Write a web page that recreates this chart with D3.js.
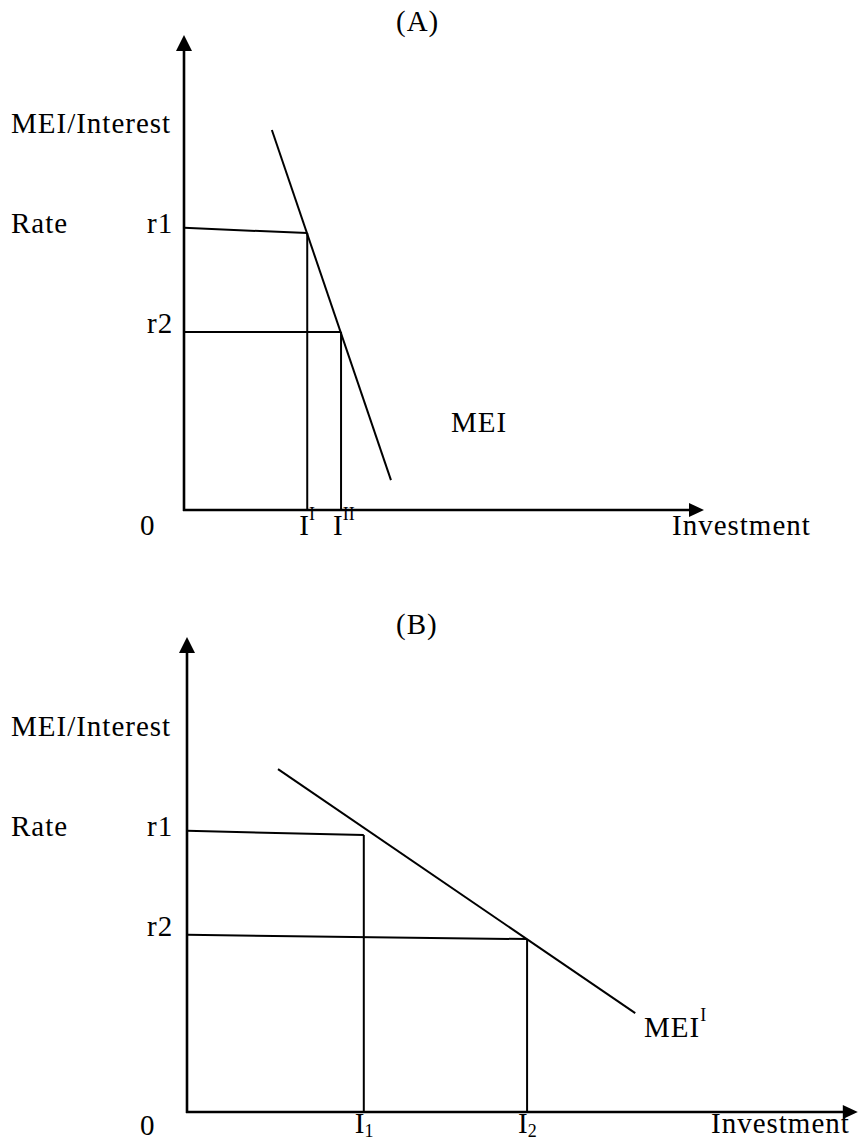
<!DOCTYPE html>
<html>
<head>
<meta charset="utf-8">
<script src="https://cdn.jsdelivr.net/npm/d3@7"></script>
<style>
  html, body { margin: 0; padding: 0; background: #fff; }
  text { font-family: "Liberation Serif", "Times New Roman", serif; fill: #000; }
</style>
</head>
<body>
<svg id="chart" width="859" height="1141"></svg>
<script>
// ---- data (economic units: x = investment, y = MEI / interest rate) ----
const panels = ["A", "B"];
const panelTitles = ["(A)", "(B)"];
const axisTops = [100, 100];           // y-axis length (units)
const axisEnds = [100, 129];           // x-axis length (units)
// interest-rate levels: value at the y-axis and value at the investment point
const r1Start = [59.4, 59.2];
const r1End   = [58.3, 58.3];
const r2Start = [37.5, 37.3];
const r2End   = [37.5, 36.4];
// investment levels
const invAtR1 = [23.7, 34.0];
const invAtR2 = [30.2, 65.4];
// MEI curve end points [x0, y0, x1, y1]
const meiA = [16.9, 80.0, 39.8, 6.3];
const meiB = [17.5, 72.2, 86.2, 20.8];
const meiCurves = [meiA, meiB];
const curveLabels = [["MEI", ""], ["MEI", "I"]];
const invLabels = [[["I", "I", "sup"], ["I", "II", "sup"]], [["I", "1", "sub"], ["I", "2", "sub"]]];
const yLabel1 = "MEI/Interest";
const yLabel2 = "Rate";
const rLabels = ["r1", "r2"];
const xLabel = "Investment";
const originLabel = "0";

// ---- layout ----
const origins = [[184, 510], [187, 1112]];
const x = d3.scaleLinear().domain([0, 100]).range([0, 520]);
const y = d3.scaleLinear().domain([0, 100]).range([0, -475]);

const svg = d3.select("#chart");
const FS = 29, LS = "1px";

panels.forEach((p, i) => {
  const [ox, oy] = origins[i];
  const g = svg.append("g").attr("transform", `translate(${ox},${oy})`);

  // axes
  g.append("line").attr("x1", 0).attr("y1", 1).attr("x2", 0).attr("y2", y(axisTops[i]) + 14)
    .attr("stroke", "#000").attr("stroke-width", 2.6);
  const yt = y(axisTops[i]);
  g.append("path").attr("d", `M0,${yt} L-8,${yt + 16} L8,${yt + 16} Z`).attr("fill", "#000");

  g.append("line").attr("x1", -1).attr("y1", 0).attr("x2", x(axisEnds[i]) - 13).attr("y2", 0)
    .attr("stroke", "#000").attr("stroke-width", 2.6);
  const xt = x(axisEnds[i]);
  g.append("path").attr("d", `M${xt},0 L${xt - 15},-7 L${xt - 15},7 Z`).attr("fill", "#000");

  const sw = 2;
  // r1 horizontal + vertical
  g.append("line").attr("x1", 0).attr("y1", y(r1Start[i])).attr("x2", x(invAtR1[i])).attr("y2", y(r1End[i]))
    .attr("stroke", "#000").attr("stroke-width", sw);
  g.append("line").attr("x1", x(invAtR1[i])).attr("y1", y(r1End[i])).attr("x2", x(invAtR1[i])).attr("y2", 0)
    .attr("stroke", "#000").attr("stroke-width", sw);
  // r2 horizontal + vertical
  g.append("line").attr("x1", 0).attr("y1", y(r2Start[i])).attr("x2", x(invAtR2[i])).attr("y2", y(r2End[i]))
    .attr("stroke", "#000").attr("stroke-width", sw);
  g.append("line").attr("x1", x(invAtR2[i])).attr("y1", y(r2End[i])).attr("x2", x(invAtR2[i])).attr("y2", 0)
    .attr("stroke", "#000").attr("stroke-width", sw);
  // MEI curve
  const c = meiCurves[i];
  g.append("path").attr("d", d3.line()([[x(c[0]), y(c[1])], [x(c[2]), y(c[3])]]))
    .attr("stroke", "#000").attr("stroke-width", sw).attr("fill", "none");

  // text labels (absolute coordinates)
  const dy = i === 0 ? 0 : 603;
  const txt = (s, tx, ty) => svg.append("text").attr("x", tx).attr("y", ty)
    .attr("font-size", FS).style("letter-spacing", LS).text(s);
  txt(panelTitles[i], 396, 31 + dy);
  txt(yLabel1, 11, 133 + dy);
  txt(yLabel2, 11, 233 + dy);
  txt(rLabels[0], 147, 233 + dy);
  txt(rLabels[1], 147, 333 + dy);
  txt(originLabel, 140, i === 0 ? oy + 25 : oy + 23);
  txt(xLabel, i === 0 ? 672 : 711, oy + (i === 0 ? 25 : 21));

  // curve label
  const cl = svg.append("text").attr("font-size", FS).style("letter-spacing", LS)
    .attr("x", i === 0 ? 451 : 644).attr("y", i === 0 ? 432 : 1037);
  cl.append("tspan").text(curveLabels[i][0]);
  if (curveLabels[i][1]) cl.append("tspan").attr("font-size", 18).attr("dy", -16).text(curveLabels[i][1]);

  // investment labels
  [invAtR1[i], invAtR2[i]].forEach((v, k) => {
    const lab = invLabels[i][k];
    const lx = ox + x(v) - (lab[2] === "sup" ? 8 : 9);
    const t = svg.append("text").attr("font-size", FS).attr("x", lx).attr("y", i === 0 ? oy + 25 : oy + 21);
    t.append("tspan").text(lab[0]);
    t.append("tspan").attr("font-size", 18).attr("dy", lab[2] === "sup" ? -15 : 4).text(lab[1]);
  });
});
</script>
</body>
</html>
